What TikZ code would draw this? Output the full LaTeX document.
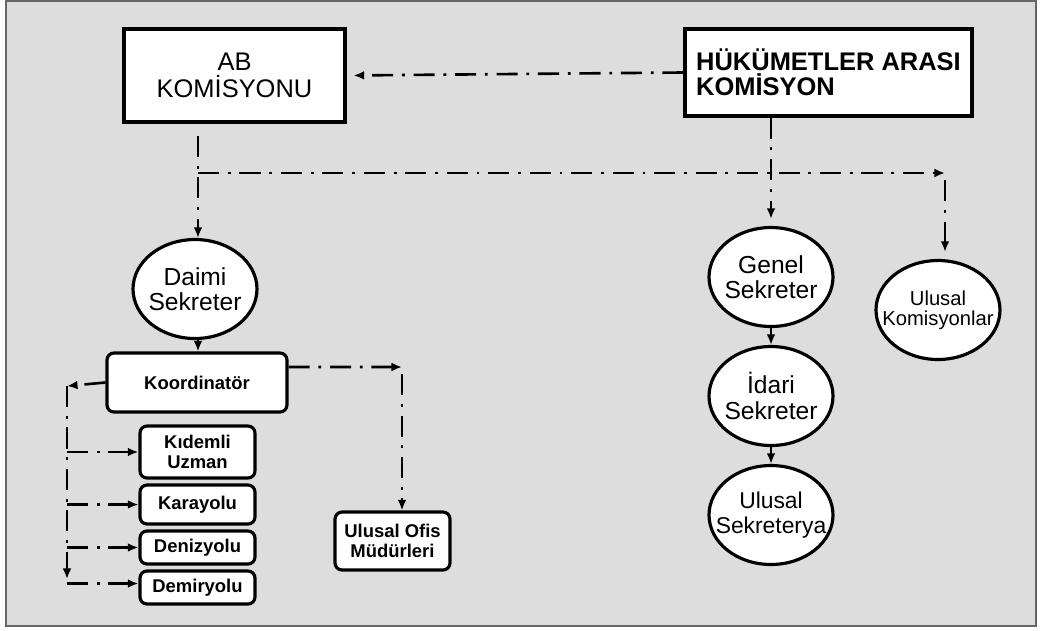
\documentclass[tikz,border=0pt]{standalone}
\usepackage{fontspec}
\setmainfont{Liberation Sans}
\usetikzlibrary{arrows.meta,shapes.geometric}
\definecolor{bggray}{RGB}{221,221,221}
\tikzset{
	kutu/.style={draw, fill=white, line width=1.8pt, inner sep=0pt},
	yuvarlak/.style={kutu, rounded corners=4pt, align=center, font=\bfseries\fontsize{10.5}{11.5}\selectfont},
	oval/.style={ellipse, draw, fill=white, line width=1.8pt, inner xsep=-8pt, inner ysep=0pt, minimum width=2.48cm, minimum height=1.98cm, align=center, font=\fontsize{14}{14.5}\selectfont},
	noktali/.style={line width=1.5pt, dash pattern=on 12pt off 5pt on 1.6pt off 5pt, -{Latex[length=6pt,width=5pt]}},
	duz/.style={line width=1.5pt, -{Latex[length=6pt,width=5pt]}}
}

\begin{document}
\begin{tikzpicture}[x=0.02cm, y=-0.02cm]
			%%%%% START %%%%%
			\useasboundingbox (0, 0) rectangle (1042, 630);
			\draw[fill=bggray, draw=black!60, line width=0.8pt] (6, 1) rectangle (1036, 626);
			
			\node[kutu, minimum width=4.42cm, minimum height=1.86cm, align=center, font=\fontsize{14.5}{15}\selectfont] (ab) at (234.5, 75.5) {AB\\KOMİSYONU};
			\node[kutu, minimum width=5.74cm, minimum height=1.74cm, align=left, font=\bfseries\fontsize{14.5}{14.5}\selectfont] (hak) at (828.5, 72.5) {HÜKÜMETLER ARASI\\KOMİSYON};
			
			\node[oval] (daimi) at (195, 289) {Daimi\\Sekreter};
			\node[oval] (genel) at (771, 277) {Genel\\Sekreter};
			\node[oval] (idari) at (771, 396) {İdari\\Sekreter};
			\node[oval, font=\fontsize{13}{14.5}\selectfont] (ulsek) at (771, 515) {Ulusal\\Sekreterya};
			\node[oval, font=\fontsize{11.5}{11.5}\selectfont] (ulkom) at (938, 310) {Ulusal\\Komisyonlar};
			
			\node[yuvarlak, minimum width=3.6cm, minimum height=1.18cm] (koord) at (197, 382.5) {Koordinatör};
			\node[yuvarlak, minimum width=2.3cm, minimum height=1.04cm] (kidemli) at (197.5, 452) {Kıdemli\\Uzman};
			\node[yuvarlak, minimum width=2.3cm, minimum height=0.78cm] (kara) at (197.5, 504.5) {Karayolu};
			\node[yuvarlak, minimum width=2.3cm, minimum height=0.66cm] (deniz) at (197.5, 547.5) {Denizyolu};
			\node[yuvarlak, minimum width=2.3cm, minimum height=0.66cm] (demir) at (197.5, 587.5) {Demiryolu};
			\node[yuvarlak, minimum width=2.3cm, minimum height=1.16cm] (ulofis) at (392.5, 541) {Ulusal Ofis\\Müdürleri};
			
			\coordinate (ayrim) at (198, 173);
			\coordinate (komkose) at (945, 173);
			\coordinate (ofiskose) at (402, 367);
			\coordinate (solust) at (67, 386);
			\coordinate (solalt) at (67, 579);
			
			% ust baglantilar
			\draw[noktali, shorten >=4pt] (hak.west) -- (ab.east);
			\draw[noktali, shorten <=7pt] (ab.south -| ayrim) -- (daimi.north -| ayrim);
			\draw[noktali] (ayrim) -- (komkose);
			\draw[noktali, shorten <=4pt, shorten >=4pt] (komkose) -- (komkose |- ulkom.north);
			\draw[noktali, shorten >=4pt] (genel.north |- hak.south) -- (genel.north);
			
			% sekreterler
			\draw[duz] (daimi.south -| ayrim) -- (koord.north -| ayrim);
			\draw[duz] (genel.south) -- (idari.north);
			\draw[duz] (idari.south) -- (ulsek.north);
			
			% koordinator
			\draw[noktali] ([yshift=0.31cm]koord.east) -- (ofiskose);
			\draw[noktali, shorten <=4pt] (ofiskose) -- (ofiskose |- ulofis.north);
			\draw[noktali] (koord.west) -- (solust);
			\draw[noktali] (solust) -- (solalt);
			\draw[noktali] (kidemli.west -| solust) -- (kidemli.west);
			\draw[noktali] (kara.west -| solust) -- (kara.west);
			\draw[noktali] (deniz.west -| solust) -- (deniz.west);
			\draw[noktali] ([yshift=0.08cm]demir.west -| solust) -- ([yshift=0.08cm]demir.west);
			%%%%% END %%%%%
\end{tikzpicture}
\end{document}
